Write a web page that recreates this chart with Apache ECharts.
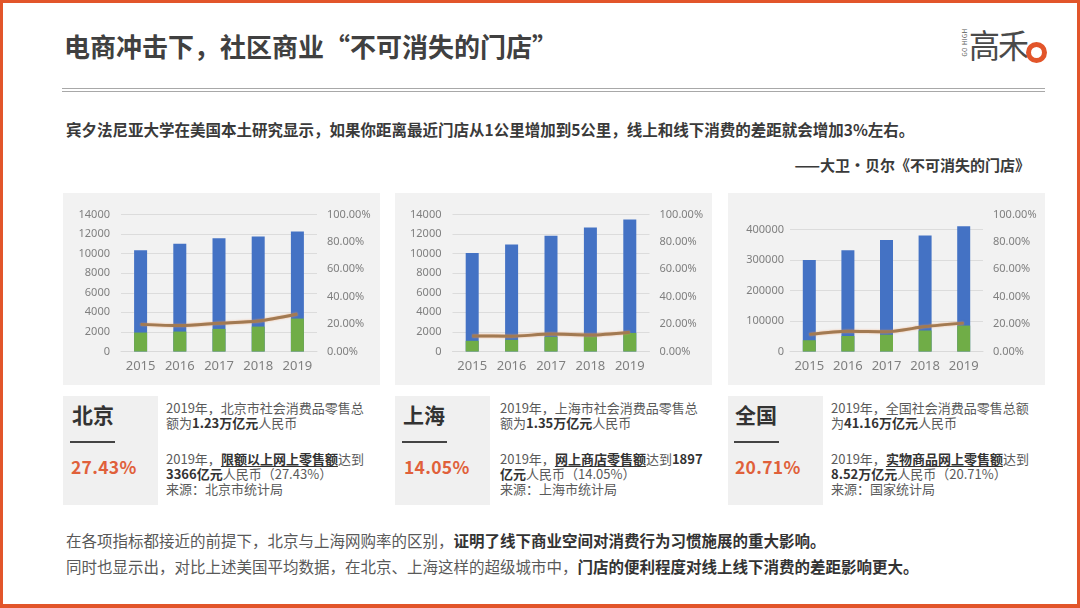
<!DOCTYPE html>
<html>
<head>
<meta charset="utf-8">
<script src="https://cdn.jsdelivr.net/npm/echarts@6/dist/echarts.min.js"></script>
<style>
  html, body { margin:0; padding:0; background:#fff; }
  #page { position:relative; width:1080px; height:608px; overflow:hidden; background:#fff;
          font-family:"Noto Sans CJK SC","Noto Sans",sans-serif; }
  .frame-t { position:absolute; left:0; top:0; width:1080px; height:3px; background:#e2552a; }
  .frame-b { position:absolute; left:0; bottom:0; width:1080px; height:4px; background:#e2552a; }
  .frame-l { position:absolute; left:0; top:0; width:3px; height:608px; background:#e2552a; }
  .frame-r { position:absolute; right:0; top:0; width:3px; height:608px; background:#e2552a; }
  .abs { position:absolute; white-space:nowrap; }
  .title { left:64px; top:33px; font-size:26px; line-height:26px; font-weight:bold; color:#404040; }
  .rule1 { position:absolute; left:62px; top:88px; width:983px; height:1px; background:#a8a8a8; }
  .rule2 { position:absolute; left:62px; top:91px; width:983px; height:1px; background:#a8a8a8; }
  .lead { left:66px; top:121px; font-size:15.5px; line-height:16px; font-weight:bold; color:#3a3a3a; }
  .quote { right:50px; top:157px; font-size:15px; line-height:16px; font-weight:bold; color:#3a3a3a; }
  .panel { position:absolute; top:193px; width:317px; height:192px; background:#f2f2f2; }
  .ibox { position:absolute; top:396px; width:95px; height:109px; background:#f0f0f0; }
  .city { font-size:21px; line-height:22px; font-weight:bold; color:#333; }
  .cline { position:absolute; width:45px; height:2px; background:#444; }
  .pct { font-size:17.5px; line-height:18px; font-weight:bold; color:#e0603a; letter-spacing:0.3px; }
  .info { font-size:13px; line-height:15px; color:#5a5a5a; }
  .info b { color:#333; }
  .info u { color:#333; font-weight:bold; text-decoration:underline; text-underline-offset:2px; }
  .bottom { left:66px; font-size:15.5px; line-height:16px; color:#595959; }
  .bottom b { color:#333; }
  #chart { position:absolute; left:0; top:0; width:1080px; height:608px; }
  .logo-t { left:969px; top:27px; font-size:31px; line-height:34px; color:#4a4a4a; letter-spacing:-2px; transform:scaleY(1.05); }
  .logo-o { position:absolute; left:1026px; top:42px; width:11px; height:11px; border:5px solid #e2552a; border-radius:50%; background:#fff; }
  .logo-g { left:950px; top:39px; font-size:6px; line-height:7px; color:#555; transform:rotate(-90deg); letter-spacing:0.5px; }
</style>
</head>
<body>
<div id="page">
  <div class="abs title">电商冲击下，社区商业“不可消失的门店”</div>
  <div class="abs logo-g">GO HIGH</div>
  <div class="abs logo-t">高禾</div>
  <div class="logo-o"></div>
  <div class="rule1"></div><div class="rule2"></div>

  <div class="abs lead">宾夕法尼亚大学在美国本土研究显示，如果你距离最近门店从1公里增加到5公里，线上和线下消费的差距就会增加3%左右。</div>
  <div class="abs quote">——大卫·贝尔《不可消失的门店》</div>

  <div class="panel" style="left:63px"></div>
  <div class="panel" style="left:395px"></div>
  <div class="panel" style="left:728px"></div>

  <div class="ibox" style="left:63px"></div>
  <div class="ibox" style="left:395px"></div>
  <div class="ibox" style="left:728px"></div>

  <div class="abs city" style="left:72px; top:403px">北京</div>
  <div class="cline" style="left:70px; top:441px"></div>
  <div class="abs pct" style="left:71px; top:458px">27.43%</div>
  <div class="abs info" style="left:166px; top:400px">2019年，北京市社会消费品零售总<br>额为<b>1.23万亿元</b>人民币</div>
  <div class="abs info" style="left:166px; top:451px">2019年，<u>限额以上网上零售额</u>达到<br><b>3366亿元</b>人民币（27.43%）<br>来源：北京市统计局</div>

  <div class="abs city" style="left:403px; top:403px">上海</div>
  <div class="cline" style="left:402px; top:441px"></div>
  <div class="abs pct" style="left:404px; top:458px">14.05%</div>
  <div class="abs info" style="left:500px; top:400px">2019年，上海市社会消费品零售总<br>额为<b>1.35万亿元</b>人民币</div>
  <div class="abs info" style="left:500px; top:451px">2019年，<u>网上商店零售额</u>达到<b>1897</b><br><b>亿元</b>人民币（14.05%）<br>来源：上海市统计局</div>

  <div class="abs city" style="left:735px; top:403px">全国</div>
  <div class="cline" style="left:734px; top:441px"></div>
  <div class="abs pct" style="left:735px; top:458px">20.71%</div>
  <div class="abs info" style="left:831px; top:400px">2019年，全国社会消费品零售总额<br>为<b>41.16万亿元</b>人民币</div>
  <div class="abs info" style="left:831px; top:451px">2019年，<u>实物商品网上零售额</u>达到<br><b>8.52万亿元</b>人民币（20.71%）<br>来源：国家统计局</div>

  <div class="abs bottom" style="top:532px">在各项指标都接近的前提下，北京与上海网购率的区别，<b>证明了线下商业空间对消费行为习惯施展的重大影响。</b></div>
  <div class="abs bottom" style="top:558px">同时也显示出，对比上述美国平均数据，在北京、上海这样的超级城市中，<b>门店的便利程度对线上线下消费的差距影响更大。</b></div>

  <div id="chart"></div>

  <div class="frame-t"></div><div class="frame-b"></div><div class="frame-l"></div><div class="frame-r"></div>
</div>
<script>
// ---- data ----
const years = ['2015', '2016', '2017', '2018', '2019'];

const bjTotal  = [10338, 11005, 11575, 11748, 12270];
const bjOnline = [1936, 2038, 2313, 2547, 3366];
const bjRatio  = [19.8, 18.9, 20.6, 22.2, 27.43];

const shTotal  = [10056, 10947, 11830, 12669, 13497];
const shOnline = [1090, 1190, 1500, 1520, 1897];
const shRatio  = [11.3, 11.2, 12.7, 12.0, 14.05];

const cnTotal  = [300931, 332316, 366262, 380987, 411649];
const cnOnline = [37000, 51000, 55000, 69000, 85239];
const cnRatio  = [12.5, 14.8, 14.4, 18.2, 20.71];

const leftMax   = [14000, 14000, 450000];
const leftStep  = [2000, 2000, 100000];
const rightMax  = 100;
const rightStep = 20;

// ---- chart ----
const chart = echarts.init(document.getElementById('chart'), null, {renderer: 'canvas'});
const grids = [
  {left: 121, top: 214.5, width: 196, height: 137},
  {left: 452.5, top: 214.5, width: 197, height: 137},
  {left: 790, top: 214.5, width: 193, height: 137}
];
const sets = [
  [bjTotal, bjOnline, bjRatio],
  [shTotal, shOnline, shRatio],
  [cnTotal, cnOnline, cnRatio]
];
const labelFont = {color: '#7f7f7f', fontFamily: 'Noto Sans, sans-serif'};
const xAxis = [], yAxis = [], series = [];
grids.forEach((g, i) => {
  xAxis.push({
    type: 'category', gridIndex: i, data: years,
    axisLine: {show: true, lineStyle: {color: '#d9d9d9'}},
    axisTick: {show: false},
    axisLabel: Object.assign({fontSize: 13, margin: 8, interval: 0, hideOverlap: false}, labelFont)
  });
  yAxis.push({
    type: 'value', gridIndex: i, min: 0, max: leftMax[i], interval: leftStep[i],
    axisLine: {show: false}, axisTick: {show: false},
    splitLine: {show: true, showMaxLine: i !== 2, lineStyle: {color: '#dcdcdc'}},
    axisLabel: Object.assign({fontSize: 11, margin: i === 2 ? 6 : 11, showMaxLabel: i !== 2,
      formatter: v => String(v)}, labelFont)
  });
  yAxis.push({
    type: 'value', gridIndex: i, position: 'right', min: 0, max: rightMax, interval: rightStep,
    axisLine: {show: false}, axisTick: {show: false}, splitLine: {show: false},
    axisLabel: Object.assign({fontSize: 11, margin: 10, formatter: v => v.toFixed(2) + '%'}, labelFont)
  });
  const [tot, onl, rat] = sets[i];
  series.push({type: 'bar', xAxisIndex: i, yAxisIndex: 2 * i, data: tot, barWidth: 13,
    itemStyle: {color: '#4472c4'}, silent: true});
  series.push({type: 'bar', xAxisIndex: i, yAxisIndex: 2 * i, data: onl, barWidth: 13, barGap: '-100%',
    itemStyle: {color: '#70ad47'}, silent: true});
  series.push({type: 'line', xAxisIndex: i, yAxisIndex: 2 * i + 1, data: rat, smooth: 0.25,
    showSymbol: false, z: 5,
    lineStyle: {color: '#a27a52', width: 3, shadowColor: 'rgba(240,150,90,0.7)', shadowBlur: 2},
    silent: true});
});
chart.setOption({
  backgroundColor: 'transparent',
  animation: false,
  grid: grids,
  xAxis, yAxis, series
});
</script>
</body>
</html>
